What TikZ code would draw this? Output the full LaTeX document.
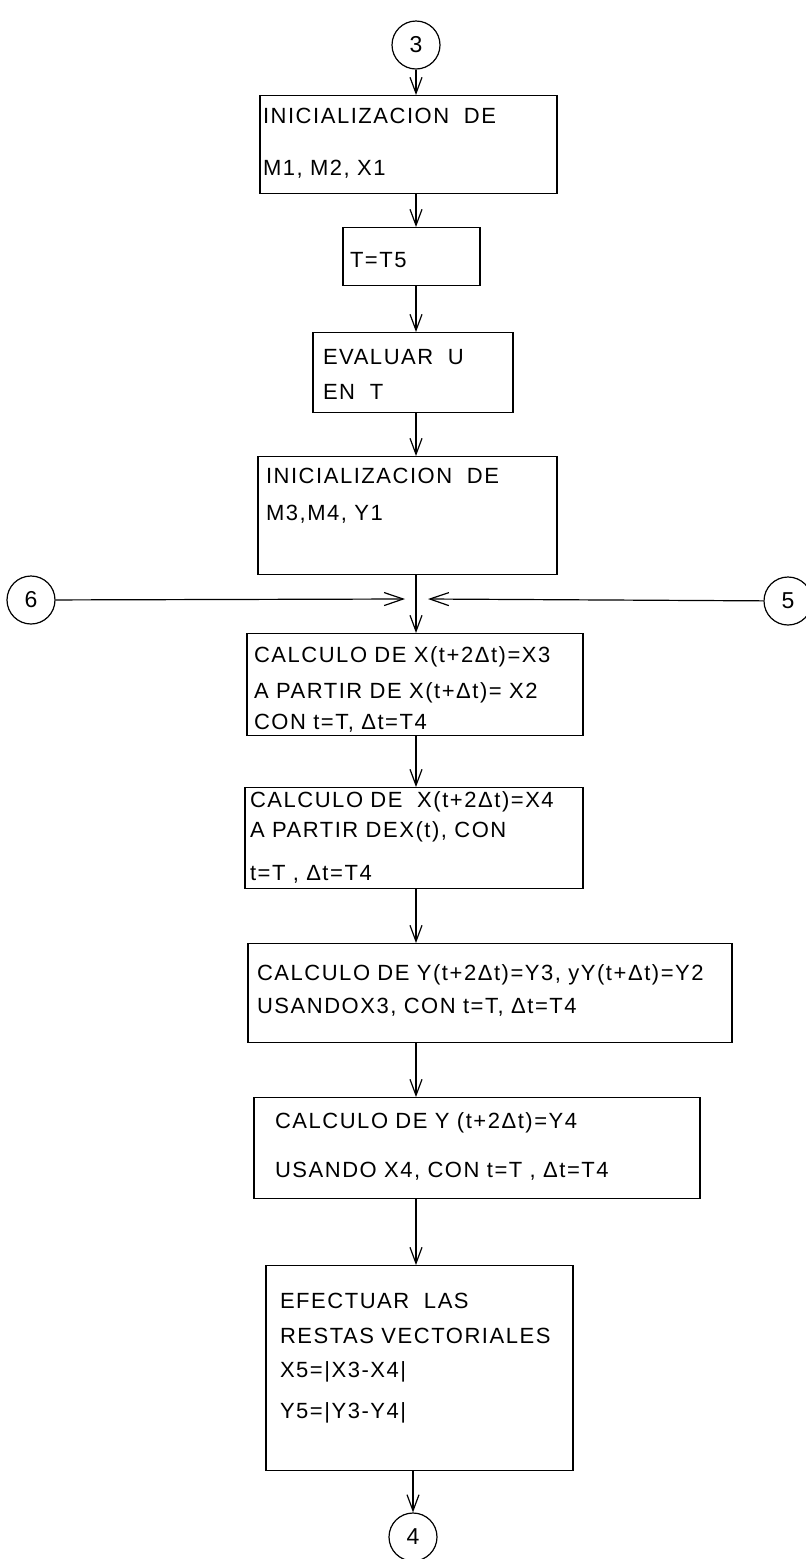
\documentclass[tikz,border=0pt]{standalone}
\usepackage{fontspec}
\setmainfont[LetterSpace=7]{Liberation Sans}
\usetikzlibrary{arrows.meta}

\tikzset{
  proc/.style={draw, line width=1.2pt, align=left, inner ysep=0pt, anchor=north,
    font=\fontsize{22}{25}\selectfont},
  conn/.style={draw, circle, line width=1.2pt, minimum size=48pt, inner sep=0pt,
    font=\fontsize{23}{25}\selectfont},
  flow/.style={line width=1.2pt, -{Straight Barb[length=16pt,width=12pt]}},
  side/.style={line width=1.2pt, -{Straight Barb[length=19pt,width=13pt]}},
}

\begin{document}
\begin{tikzpicture}[x=1pt, y=-1pt]
    \useasboundingbox (0,0) rectangle (806,1559);

    % 1. conectores
    \node[conn] (c3) at (416,45) {3};
    \node[conn] (c6) at (31,600) {6};
    \node[conn] (c5) at (788,601) {5};
    \node[conn] (c4) at (413,1537) {4};

    % 2. bloques del proceso (anchor=north en el borde superior)
    \node[proc, text height=28pt, text depth=70pt, text width=291pt, inner xsep=3pt] (ini1) at (408.5,95)
        {INICIALIZACION \ DE\\[27pt]M1, M2, X1};
    \node[proc, text height=40pt, text depth=18pt, text width=123pt, inner xsep=7pt] (t5) at (411.5,227)
        {T=T5};
    \node[proc, text height=32pt, text depth=48pt, text width=180pt, inner xsep=10pt] (eval) at (413,332)
        {EVALUAR \ U\\[10pt]EN \ T};
    \node[proc, text height=27pt, text depth=91pt, text width=283pt, inner xsep=8pt] (ini2) at (407.5,456)
        {INICIALIZACION \ DE\\[12pt]M3,M4, Y1};
    \node[proc, text height=29pt, text depth=73pt, text width=322pt, inner xsep=7pt] (calx3) at (415,633)
        {CALCULO DE X(t+2Δt)=X3\\[11pt]A PARTIR DE X(t+Δt)= X2\\[6pt]CON t=T, Δt=T4};
    \node[proc, text height=20pt, text depth=81pt, text width=328pt, inner xsep=5pt] (calx4) at (414,787)
        {CALCULO DE \ X(t+2Δt)=X4\\[5pt]A PARTIR DEX(t), CON\\[18pt]t=T , Δt=T4};
    \node[proc, text height=37pt, text depth=62pt, text width=466pt, inner xsep=9pt] (caly3) at (490,943)
        {CALCULO DE Y(t+2Δt)=Y3, yY(t+Δt)=Y2\\[8pt]USANDOX3, CON t=T, Δt=T4};
    \node[proc, text height=31pt, text depth=70pt, text width=404pt, inner xsep=21pt] (caly4) at (477,1097)
        {CALCULO DE Y (t+2Δt)=Y4\\[24pt]USANDO X4, CON t=T , Δt=T4};
    \node[proc, text height=43pt, text depth=162pt, text width=279pt, inner xsep=14pt] (resta) at (419.5,1265)
        {EFECTUAR \ LAS\\[10pt]RESTAS VECTORIALES\\[9pt]X5=|X3-X4|\\[16pt]Y5=|Y3-Y4|};

    % 3. flechas
    \draw[flow] (c3) -- (ini1.north -| c3);
    \draw[flow] (ini1.south -| c3) -- (t5.north -| c3);
    \draw[flow] (t5.south -| c3) -- (eval.north -| c3);
    \draw[flow] (eval.south -| c3) -- (ini2.north -| c3);
    \draw[flow] (ini2.south -| c3) -- (calx3.north -| c3);
    \draw[flow] (calx3.south -| c3) -- (calx4.north -| c3);
    \draw[flow] (calx4.south -| c3) -- (caly3.north -| c3);
    \draw[flow] (caly3.south -| c3) -- (caly4.north -| c3);
    \draw[flow] (caly4.south -| c3) -- (resta.north -| c3);
    \draw[flow] (resta.south -| c4) -- (c4);

    % 4. entradas laterales
    \coordinate (tipL) at (405,599);
    \coordinate (tipR) at (428,599);
    \draw[side] (c6) -- (tipL);
    \draw[side] (c5) -- (tipR);
\end{tikzpicture}
\end{document}
